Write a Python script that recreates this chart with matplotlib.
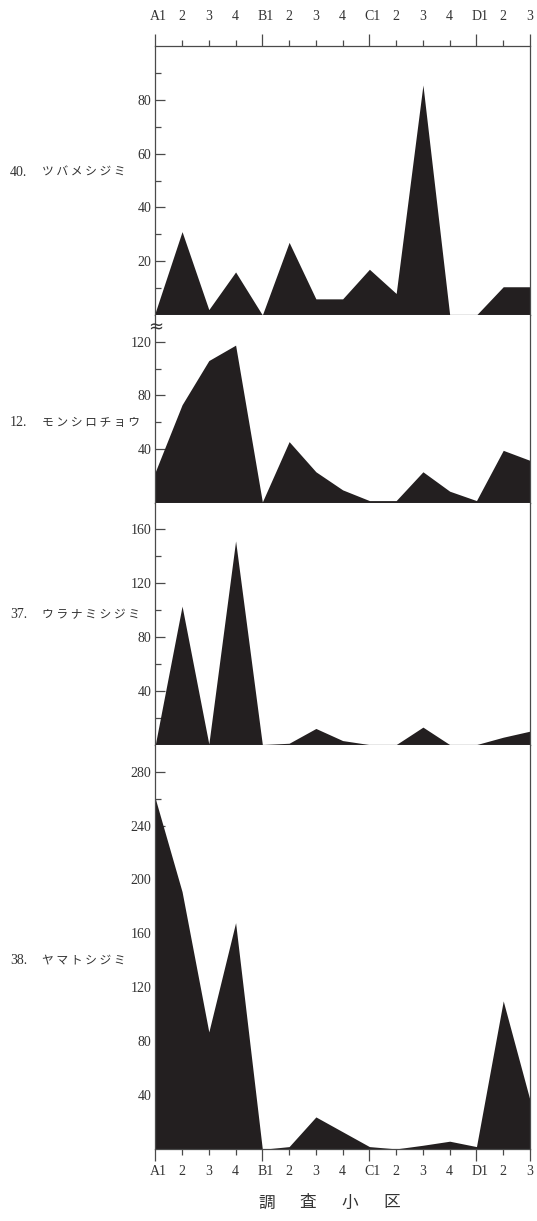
import matplotlib
matplotlib.use("Agg")
import matplotlib.pyplot as plt
from matplotlib.transforms import blended_transform_factory, offset_copy

plt.rcParams["font.family"] = ["Liberation Serif", "Noto Sans CJK JP"]

# survey plots A1 .. D3
plot_labels = ["A1", "2", "3", "4", "B1", "2", "3", "4",
               "C1", "2", "3", "4", "D1", "2", "3"]

species_no = ["40.", "12.", "37.", "38."]
species_name = ["ツバメシジミ", "モンシロチョウ", "ウラナミシジミ", "ヤマトシジミ"]

tsubame = [1, 31, 2, 16, 0, 27, 6, 6, 17, 8, 85.5, 0, 0, 10.5, 10.5]
monshiro = [23, 73, 106, 117.5, 0.5, 45.5, 23, 9.5, 1.5, 1.5, 23, 8.5, 1.5, 39, 31.5]
uranami = [0, 103, 0.5, 151.5, 0, 1, 12, 3, 0, 0, 13, 0, 0, 5.5, 10]
yamato = [260, 191, 87, 168, 0, 2, 24, 13, 2, 0.3, 3, 6, 2, 110, 36.5]

counts = [tsubame, monshiro, uranami, yamato]
y_max = [100, 140, 180, 300]
y_step = [20, 40, 40, 40]

W, H = 537, 1221
fill_col = "#231f20"
line_col = "#4a4a4a"
text_col = "#333333"

fig = plt.figure(figsize=(W / 100, H / 100), dpi=100)

left_px, right_px = 155.3, 530
panel_px = [(46, 315), (315, 502.6), (502.6, 744.6), (744.6, 1149.3)]
label_y = [53, 60, 97, 140]

x = list(range(len(plot_labels)))
major_x = [0, 4, 8, 12, 14]
minor_x = [i for i in x if i not in major_x]

axes = []
for k, (top, bot) in enumerate(panel_px):
    ax = fig.add_axes([left_px / W, 1 - bot / H,
                       (right_px - left_px) / W, (bot - top) / H])
    ax.set_axisbelow(True)
    ax.fill_between(x, counts[k], 0, color=fill_col, lw=0)
    ax.set_xlim(0, 14)
    ax.set_ylim(0, y_max[k])

    for side in ["left", "right", "bottom", "top"]:
        ax.spines[side].set_color(line_col)
        ax.spines[side].set_linewidth(0.9)
    if k > 0:
        ax.spines["top"].set_visible(False)

    step = y_step[k]
    ax.set_yticks(list(range(step, y_max[k], step)))
    ax.set_yticks(list(range(step // 2, y_max[k], step)), minor=True)
    ax.tick_params(axis="y", which="both", direction="in", color=line_col,
                   width=0.9, labelsize=10, labelcolor=text_col, pad=3)
    ax.tick_params(axis="y", which="major", length=7)
    ax.tick_params(axis="y", which="minor", length=4)

    ax.set_xticks(major_x)
    ax.set_xticks(minor_x, minor=True)
    ax.set_xticklabels([])
    ax.tick_params(axis="x", which="both", direction="out", color=line_col,
                   width=0.9, bottom=False, top=False,
                   labelbottom=False, labeltop=False)
    ax.tick_params(axis="x", which="major", length=8.5)
    ax.tick_params(axis="x", which="minor", length=4.5)
    axes.append(ax)

    # species name on the left margin
    trans = blended_transform_factory(fig.transFigure, ax.transData)
    ax.text(10 / W, label_y[k], species_no[k], transform=trans,
            fontsize=10, color=text_col, ha="left", va="center")
    ax.text(42 / W, label_y[k], " ".join(species_name[k]), transform=trans,
            family="Noto Sans CJK JP", fontsize=8.5, color=text_col,
            ha="left", va="center")

axes[0].tick_params(axis="x", which="both", top=True)
axes[-1].tick_params(axis="x", which="both", bottom=True)


def plot_axis_labels(ax, y, dy):
    trans = blended_transform_factory(ax.transData, ax.transAxes)
    for i, lab in enumerate(plot_labels):
        dx = 2.5 if len(lab) > 1 else 0
        t = offset_copy(trans, fig=fig, x=dx, y=dy, units="points")
        ax.text(i, y, lab, transform=t, fontsize=10, color=text_col,
                ha="center", va="center")


plot_axis_labels(axes[0], 1, 21)
plot_axis_labels(axes[-1], 0, -16)

# axis break mark between the first two panels
fig.text(left_px / W, 1 - 327 / H, "≈", family="DejaVu Sans", fontsize=13,
         color=text_col, ha="center", va="center")

for i, ch in enumerate("調査小区"):
    fig.text((266.5 + 41.7 * i) / W, 1 - 1203 / H, ch,
             family="Noto Sans CJK JP", fontsize=12, color=text_col,
             ha="center", va="center")

fig.savefig("out.png", dpi=100)
